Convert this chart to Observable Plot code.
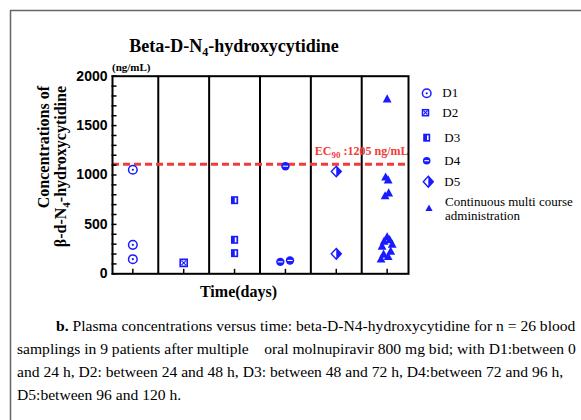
<!DOCTYPE html>
<html><head><meta charset="utf-8">
<script src="https://cdn.jsdelivr.net/npm/d3@7"></script>
<script src="https://cdn.jsdelivr.net/npm/@observablehq/plot@0.6"></script>
<style>
body{margin:0;background:#fff;}
#wrap{position:relative;width:581px;height:420px;overflow:hidden;background:#fff;}
#chart{position:absolute;left:0;top:0;}
#overlay{position:absolute;left:0;top:0;pointer-events:none;}
.serif{font-family:"Liberation Serif","Times New Roman",serif;}
</style></head><body>
<div id="wrap">
<div id="chart"></div>
<svg id="overlay" width="581" height="420" xmlns="http://www.w3.org/2000/svg">
  <line x1="10.5" y1="10" x2="10.5" y2="420" stroke="#666" stroke-width="1.5"/>
  <line x1="10" y1="10.5" x2="581" y2="10.5" stroke="#666" stroke-width="1.5"/>
  <g class="serif" font-weight="bold" fill="#000">
    <text x="234" y="52" text-anchor="middle" font-size="18">Beta-D-N<tspan font-size="12" dy="4">4</tspan><tspan dy="-4">-hydroxycytidine</tspan></text>
    <text x="112" y="71" font-size="11">(ng/mL)</text>
    <text transform="translate(49,86) rotate(-90)" text-anchor="end" font-size="16">Concentrations of</text>
    <text transform="translate(66,86) rotate(-90)" text-anchor="end" font-size="16">β-d-N<tspan dy="4" font-size="11">4</tspan><tspan dy="-4">-hydroxycytidine</tspan></text>
    <text x="238.5" y="297" text-anchor="middle" font-size="16">Time(days)</text>
  </g>
  <g id="legend" class="serif" font-size="13" fill="#000">
    <circle cx="426.7" cy="93.3" r="4.3" fill="none" stroke="#1a1aff" stroke-width="1.5"/>
    <circle cx="426.7" cy="93.3" r="1.1" fill="#1a1aff"/>
    <text x="442.3" y="97.4">D1</text>
    <rect x="422.5" y="109.7" width="6" height="6" fill="#fff" stroke="#1a1aff" stroke-width="1.5"/>
    <path d="M423.5,110.7L427.5,114.7M427.5,110.7L423.5,114.7" stroke="#1a1aff" stroke-width="1.1"/>
    <text x="442.3" y="116.8">D2</text>
    <rect x="423.2" y="133.7" width="7" height="8" fill="#1a1aff"/>
    <rect x="427" y="135.4" width="1.6" height="4.6" fill="#fff"/>
    <text x="444.3" y="141.8">D3</text>
    <circle cx="426.7" cy="160.7" r="3.8" fill="#1a1aff"/>
    <path d="M424.4,160.7L429,160.7" stroke="#fff" stroke-width="1.1"/>
    <text x="444.3" y="165">D4</text>
    <path d="M428.3,176.2L433.3,181.7L428.3,187.2L423.3,181.7Z" fill="#fff" stroke="#1a1aff" stroke-width="1.4"/>
    <path d="M428.3,176.2L433.3,181.7L428.3,187.2Z" fill="#1a1aff"/>
    <text x="444.3" y="186">D5</text>
    <path d="M429,204.5L432.6,211L425.4,211Z" fill="#1a1aff"/>
    <text x="445" y="206">Continuous multi course</text>
    <text x="445" y="220">administration</text>
  </g>
  <g class="serif" font-size="15.6" fill="#000">
    <text x="56" y="331"><tspan font-weight="bold">b.</tspan> Plasma concentrations versus time: beta-D-N4-hydroxycytidine for n = 26 blood</text>
    <text x="17" y="354" xml:space="preserve">samplings in 9 patients after multiple    oral molnupiravir 800 mg bid; with D1:between 0</text>
    <text x="17" y="377">and 24 h, D2: between 24 and 48 h, D3: between 48 and 72 h, D4:between 72 and 96 h,</text>
    <text x="17" y="400">D5:between 96 and 120 h.</text>
  </g>
</svg>
</div>
<script>
// ---- data ----
const xTicks = [1, 2, 3, 4, 5, 6];
const dayBounds = [1.5, 2.5, 3.5, 4.5, 5.5];
const yTicks = [0, 500, 1000, 1500, 2000];
const yMinorTicks = [0,100,200,300,400,500,600,700,800,900,1000,1100,1200,1300,1400,1500,1600,1700,1800,1900,2000];
const ec90Line = 1110;
const ecLabel = "EC90 :1205 ng/mL";

const d1Time = [1, 1, 1];
const d1Conc = [1053, 293, 148];
const d2Time = [2];
const d2Conc = [111];
const d3Time = [3, 3, 3];
const d3Conc = [745, 344, 209];
const d4Time = [4.0, 3.9, 4.09];
const d4Conc = [1089, 121, 135];
const d5Time = [5, 5];
const d5Conc = [1035, 202];
const contTime = [6.0, 5.97, 6.02, 6.03, 5.96, 6.0, 6.05, 5.94, 6.1, 5.9, 6.07, 5.93, 6.02, 5.88];
const contConc = [1770, 980, 950, 820, 790, 375, 345, 330, 300, 280, 230, 200, 175, 150];

// ---- build ----
const B = "#1a1aff";
const RED = "#f03c3c";
const rows = (t, c) => t.map((x, i) => ({t: x, c: c[i]}));
const r1 = rows(d1Time, d1Conc), r2 = rows(d2Time, d2Conc), r3 = rows(d3Time, d3Conc),
      r4 = rows(d4Time, d4Conc), r5 = rows(d5Time, d5Conc), rc = rows(contTime, contConc);
const sym = f => ({draw(ctx) { f(ctx); }});
const yTickSym = sym(c => { c.moveTo(-1, 0); c.lineTo(4, 0); });
const xTickSym = sym(c => { c.moveTo(0, 0); c.lineTo(0, -5); });
const sqOutline = sym(c => { c.rect(-3.5, -3.5, 7, 7); });
const xCross = sym(c => { c.moveTo(-2.3, -2.3); c.lineTo(2.3, 2.3); c.moveTo(2.3, -2.3); c.lineTo(-2.3, 2.3); });
const sqFill = sym(c => { c.rect(-3.6, -4, 7.2, 8); });
const whiteBar = sym(c => { c.rect(0.2, -2.4, 1.7, 4.8); });
const hLine = sym(c => { c.moveTo(-2.6, 0); c.lineTo(2.6, 0); });
const diamond = sym(c => { c.moveTo(0, -5.3); c.lineTo(5, 0); c.lineTo(0, 5.3); c.lineTo(-5, 0); c.closePath(); });
const halfDiamond = sym(c => { c.moveTo(0, -5.3); c.lineTo(5, 0); c.lineTo(0, 5.3); c.closePath(); });
const tri = sym(c => { c.moveTo(0, -4.6); c.lineTo(4.4, 3.6); c.lineTo(-4.4, 3.6); c.closePath(); });
const xy = {x: "t", y: "c"};

const plot = Plot.plot({
  width: 581, height: 300,
  marginTop: 75.7, marginBottom: 26.7, marginLeft: 112, marginRight: 173,
  style: {fontFamily: "Liberation Sans, Arial, sans-serif", fontSize: "14px", color: "#000", background: "transparent", overflow: "visible"},
  x: {domain: [0.6, 6.42], axis: null},
  y: {domain: [0, 2000], axis: null},
  marks: [
    Plot.ruleX(dayBounds, {stroke: "#000", strokeWidth: 2}),
    Plot.ruleY([ec90Line], {stroke: RED, strokeWidth: 3, strokeDasharray: "7,4"}),
    Plot.text([{v: ec90Line, label: ecLabel}], {y: "v", text: "label", frameAnchor: "right", textAnchor: "end", dy: -13, fill: RED, fontWeight: "bold", fontFamily: "Liberation Serif, serif", fontSize: 12}),
    Plot.frame({stroke: "#000", strokeWidth: 2}),
    Plot.axisY(yTicks, {tickSize: 0, tickPadding: 5, tickFormat: d => String(d), fontWeight: "bold", fontSize: 14, fill: "#000"}),
    Plot.dot(yMinorTicks, {y: d => d, frameAnchor: "left", symbol: yTickSym, stroke: "#000", strokeWidth: 1.5, fill: "none"}),
    Plot.dot(xTicks, {x: d => d, frameAnchor: "bottom", symbol: xTickSym, stroke: "#000", strokeWidth: 1.5, fill: "none"}),
    // D1
    Plot.dot(r1, {...xy, r: 4.3, stroke: B, strokeWidth: 1.5, fill: "none"}),
    Plot.dot(r1, {...xy, r: 1.1, fill: B, stroke: "none"}),
    // D2
    Plot.dot(r2, {...xy, symbol: sqOutline, fill: "#fff", stroke: B, strokeWidth: 1.6}),
    Plot.dot(r2, {...xy, symbol: xCross, fill: "none", stroke: B, strokeWidth: 1.1}),
    // D3
    Plot.dot(r3, {...xy, symbol: sqFill, fill: B, stroke: "none"}),
    Plot.dot(r3, {...xy, symbol: whiteBar, fill: "#fff", stroke: "none"}),
    // D4
    Plot.dot(r4, {...xy, r: 4.2, fill: B, stroke: "none"}),
    Plot.dot(r4, {...xy, symbol: hLine, fill: "none", stroke: "#fff", strokeWidth: 1.1}),
    // D5
    Plot.dot(r5, {...xy, symbol: diamond, fill: "#fff", stroke: B, strokeWidth: 1.4}),
    Plot.dot(r5, {...xy, symbol: halfDiamond, fill: B, stroke: "none"}),
    // continuous
    Plot.dot(rc, {...xy, symbol: tri, fill: B, stroke: "none"})
  ]
});
document.getElementById("chart").appendChild(plot);
// subscript in EC90 label
plot.querySelectorAll("text").forEach(t => {
  if (t.textContent === ecLabel) {
    t.innerHTML = 'EC<tspan dy="3" font-size="9">90</tspan><tspan dy="-3"> :1205 ng/mL</tspan>';
  }
});
</script>
</body></html>
